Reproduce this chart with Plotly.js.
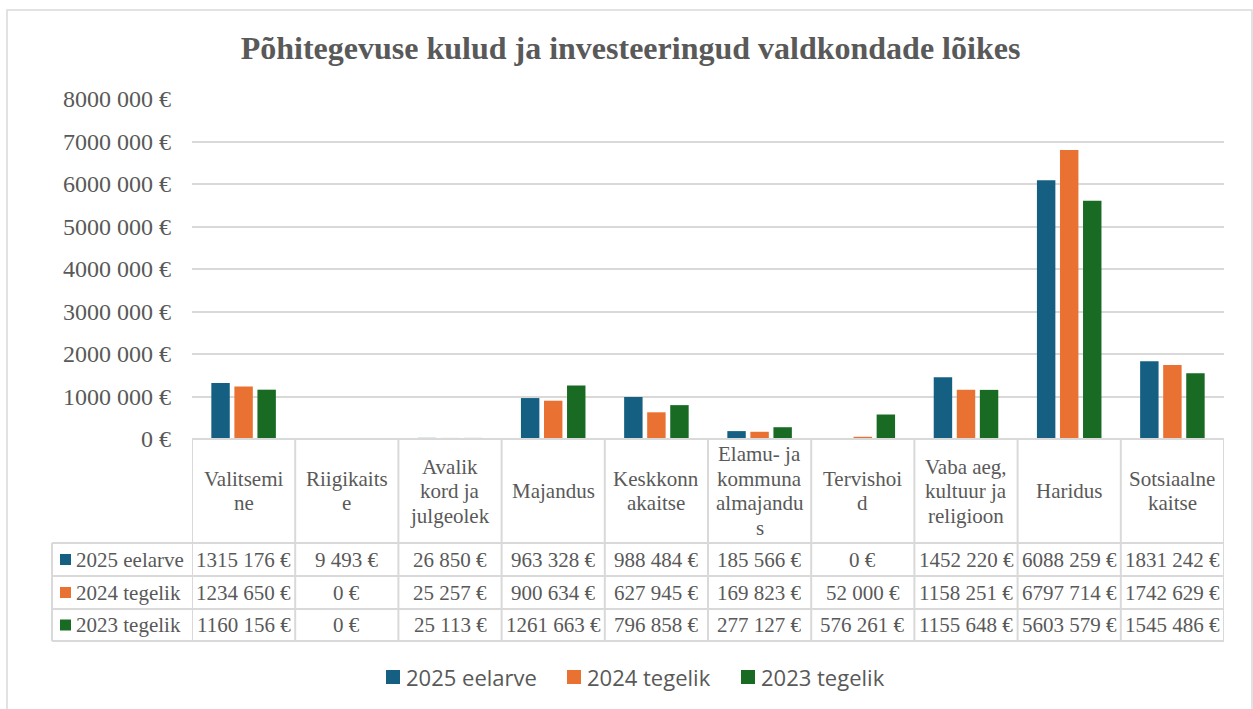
<!DOCTYPE html>
<html>
<head>
<meta charset="utf-8">
<script src="https://cdn.plot.ly/plotly-3.0.1.min.js"></script>
<style>html,body{margin:0;padding:0;background:#fff;}#chart{width:1253px;height:709px;}</style>
</head>
<body>
<div id="chart"></div>
<script>
// ---- data ----
const categories = ["Valitsemine", "Riigikaitse", "Avalik kord ja julgeolek", "Majandus", "Keskkonnakaitse",
  "Elamu- ja kommunaalmajandus", "Tervishoid", "Vaba aeg, kultuur ja religioon", "Haridus", "Sotsiaalne kaitse"];
const categoryLabelLines = [["Valitsemi", "ne"], ["Riigikaits", "e"], ["Avalik", "kord ja", "julgeolek"], ["Majandus"],
  ["Keskkonn", "akaitse"], ["Elamu- ja", "kommuna", "almajandu", "s"], ["Tervishoi", "d"],
  ["Vaba aeg,", "kultuur ja", "religioon"], ["Haridus"], ["Sotsiaalne", "kaitse"]];
const seriesNames = ["2025 eelarve", "2024 tegelik", "2023 tegelik"];
const values2025 = [1315176, 9493, 26850, 963328, 988484, 185566, 0, 1452220, 6088259, 1831242];
const values2024 = [1234650, 0, 25257, 900634, 627945, 169823, 52000, 1158251, 6797714, 1742629];
const values2023 = [1160156, 0, 25113, 1261663, 796858, 277127, 576261, 1155648, 5603579, 1545486];
const seriesColors = ["#156082", "#E97132", "#196B24"];
const yTickValues = [0, 1000000, 2000000, 3000000, 4000000, 5000000, 6000000, 7000000, 8000000];

// ---- helpers ----
function fmtEuro(v) {
  if (v >= 1000) {
    const hi = Math.floor(v / 1000), lo = v % 1000;
    return hi + " " + String(lo).padStart(3, "0") + " €";
  }
  return v + " €";
}
const L = 192, R = 1224, T = 99, B = 439;
const px = x => (x - L) / (R - L);
const py = y => (B - y) / (B - T);
const grey = "#595959", lineC = "#d9d9d9";
const serif = "Liberation Serif, Times New Roman, serif";
const sans = "Open Sans, sans-serif";

const allSeries = [values2025, values2024, values2023];
const traces = allSeries.map((vals, i) => ({
  type: "bar", name: seriesNames[i], x: categories.map((c, k) => k), y: vals,
  marker: {color: seriesColors[i], line: {width: 0}}, hoverinfo: "skip", showlegend: false
}));

const shapes = [];
const annotations = [];
// outer border
shapes.push({type: "rect", xref: "paper", yref: "paper", x0: px(7), x1: px(1252), y0: py(720), y1: py(10),
  line: {color: lineC, width: 1.5}, fillcolor: "rgba(0,0,0,0)"});
// table horizontal lines
const rowLines = [543, 576, 609, 641];
shapes.push({type: "line", xref: "paper", yref: "paper", x0: 0, x1: 1, y0: 0, y1: 0, line: {color: lineC, width: 2}});
rowLines.forEach(y => shapes.push({type: "line", xref: "paper", yref: "paper", x0: px(52), x1: 1, y0: py(y), y1: py(y),
  line: {color: lineC, width: 2}}));
// table vertical lines
for (let k = 0; k <= categories.length; k++) {
  shapes.push({type: "line", xref: "x", yref: "paper", x0: k - 0.5, x1: k - 0.5, y0: 0, y1: py(641),
    line: {color: lineC, width: 2}});
}
shapes.push({type: "line", xref: "paper", yref: "paper", x0: px(52), x1: px(52), y0: py(543), y1: py(641),
  line: {color: lineC, width: 2}});

// header (category labels)
const headerMid = 491, lineStep = 24.5;
categoryLabelLines.forEach((lines, k) => {
  const n = lines.length;
  lines.forEach((t, j) => {
    const yc = headerMid + (j - (n - 1) / 2) * lineStep;
    annotations.push({xref: "x", yref: "paper", x: k, y: py(yc), text: t, showarrow: false,
      xanchor: "center", yanchor: "middle", font: {family: serif, size: 21, color: grey}});
  });
});
// rows
const rowCenters = [559.5, 592.5, 625];
allSeries.forEach((vals, i) => {
  const yc = rowCenters[i];
  shapes.push({type: "rect", xref: "paper", yref: "paper", x0: px(60), x1: px(71), y0: py(yc - 5.5), y1: py(yc + 5.5),
    fillcolor: seriesColors[i], line: {width: 0}});
  annotations.push({xref: "paper", yref: "paper", x: px(74), y: py(yc), text: seriesNames[i], showarrow: false,
    xanchor: "left", yanchor: "middle", font: {family: serif, size: 21, color: grey}});
  vals.forEach((v, k) => {
    annotations.push({xref: "x", yref: "paper", x: k, y: py(yc), text: fmtEuro(v), showarrow: false,
      xanchor: "center", yanchor: "middle", font: {family: serif, size: 21, color: grey}});
  });
});

// bottom legend
const legendMarkX = [386, 567, 741];
const legendY = 677;
seriesNames.forEach((name, i) => {
  const x0 = legendMarkX[i];
  shapes.push({type: "rect", xref: "paper", yref: "paper", x0: px(x0), x1: px(x0 + 14), y0: py(legendY - 7), y1: py(legendY + 7),
    fillcolor: seriesColors[i], line: {width: 0}});
  annotations.push({xref: "paper", yref: "paper", x: px(x0 + 18), y: py(legendY), text: name, showarrow: false,
    xanchor: "left", yanchor: "middle", font: {family: sans, size: 22, color: grey}});
});

const layout = {
  width: 1253, height: 709,
  margin: {l: L, r: 1253 - R, t: T, b: 709 - B, pad: 0},
  paper_bgcolor: "#fff", plot_bgcolor: "#fff",
  title: {text: "Põhitegevuse kulud ja investeeringud valdkondade lõikes", xref: "container", x: 630.5 / 1253, xanchor: "center",
    yref: "container", y: 1 - 48 / 709, yanchor: "middle",
    font: {family: serif, size: 32, color: grey, weight: "bold"}},
  barmode: "group", bargap: 0.33, bargroupgap: 0.2,
  xaxis: {type: "linear", range: [-0.5, categories.length - 0.5], showticklabels: false, showgrid: false,
    zeroline: false, showline: false, ticks: "", fixedrange: true},
  yaxis: {range: [0, 8000000], tickvals: yTickValues, ticktext: yTickValues.map(fmtEuro),
    tickfont: {family: serif, size: 24, color: grey}, gridcolor: lineC, gridwidth: 2, zeroline: false,
    showline: false, ticks: "", ticklabelstandoff: 20, fixedrange: true},
  showlegend: false,
  shapes: shapes, annotations: annotations
};
Plotly.newPlot("chart", traces, layout, {displayModeBar: false, staticPlot: true});
</script>
</body>
</html>
